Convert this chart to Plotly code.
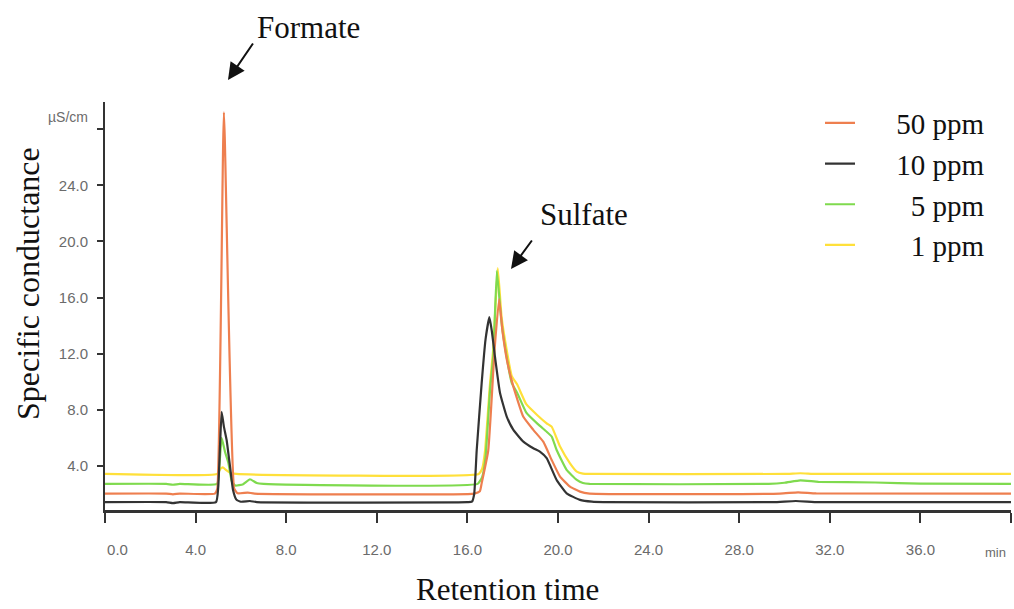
import plotly.graph_objects as go

# ---- data (retention time in min, conductance in µS/cm) ----
t_50 = [0, 2.7, 3.0, 3.3, 4.85, 4.96, 5.25, 5.7, 5.85, 6.3, 6.6, 16.3, 16.55, 16.63, 16.92, 17.2, 17.4,
        17.55, 17.75, 18.03, 18.47, 18.91, 19.35, 19.72, 20.09, 20.53, 20.97, 21.4, 29.8, 30.6, 31.4, 40]
c_50 = [2.03, 2.03, 1.98, 2.03, 2.03, 2.4, 29.2, 2.4, 2.05, 2.1, 2.03, 2.03, 2.2, 2.77, 5.1, 12.3, 15.9,
        13.6, 11.5, 9.65, 7.5, 6.57, 5.73, 4.43, 3.24, 2.52, 2.17, 2.03, 2.03, 2.12, 2.04, 2.03]

t_10 = [0, 2.7, 3.0, 3.3, 4.9, 5.0, 5.08, 5.15, 5.25, 5.37, 5.52, 5.65, 5.8, 6.0, 6.4, 6.7, 16.0, 16.2,
        16.3, 16.41, 16.63, 16.8, 16.97, 17.08, 17.2, 17.44, 17.74, 18.03, 18.47, 18.91, 19.2, 19.5, 19.94,
        20.38, 20.97, 21.5, 22.0, 29.5, 30.5, 31.5, 40]
c_10 = [1.42, 1.42, 1.35, 1.42, 1.42, 2.5, 5.5, 7.85, 6.8, 5.85, 3.95, 2.3, 1.6, 1.45, 1.5, 1.42, 1.42, 1.45,
        2.0, 5.1, 9.9, 13.0, 14.6, 13.6, 12.0, 9.2, 7.5, 6.57, 5.73, 5.26, 5.02, 4.55, 3.0,
        2.05, 1.58, 1.45, 1.42, 1.42, 1.5, 1.42, 1.42]

t_5 = [0, 2.7, 3.0, 3.3, 4.95, 5.05, 5.15, 5.3, 5.45, 5.6, 5.75, 6.1, 6.4, 6.7, 7.0, 16.45, 16.65, 16.8,
       17.0, 17.15, 17.3, 17.5, 17.73, 17.96, 18.2, 18.6, 19.1, 19.5, 19.72, 19.94, 20.38, 20.83, 21.1,
       21.4, 29.3, 30.0, 30.7, 31.5, 34.0, 36.0, 40]
c_5 = [2.72, 2.72, 2.66, 2.72, 2.72, 4.0, 6.0, 5.0, 4.2, 2.9, 2.6, 2.7, 3.05, 2.78, 2.72, 2.72, 3.2, 4.6,
       9.4, 12.0, 17.9, 14.3, 11.8, 9.9, 9.2, 7.8, 7.0, 6.44, 6.1, 5.14, 3.72, 3.0, 2.78,
       2.72, 2.72, 2.8, 2.97, 2.87, 2.82, 2.74, 2.72]

t_1 = [0, 4.95, 5.1, 5.2, 5.35, 5.55, 5.8, 16.5, 16.65, 16.78, 17.0, 17.14, 17.34, 17.51, 17.73, 17.96,
       18.2, 18.6, 19.1, 19.5, 19.72, 20.09, 20.53, 20.83, 21.1, 21.4, 30.0, 30.7, 31.4, 40]
c_1 = [3.43, 3.43, 3.8, 3.9, 3.7, 3.5, 3.43, 3.43, 3.8, 5.1, 9.9, 12.3, 18.1, 14.6, 12.3, 10.4,
       9.8, 8.4, 7.6, 7.04, 6.8, 5.38, 4.19, 3.6, 3.45, 3.43, 3.43, 3.48, 3.43, 3.43]

NB = "\u00a0"
series_names = [NB * 5 + "50 ppm", NB * 5 + "10 ppm", NB * 7 + "5 ppm", NB * 7 + "1 ppm"]
x_ticks = [0, 4, 8, 12, 16, 20, 24, 28, 32, 36, 40]
x_tick_text = [NB * 6 + "0.0", "4.0", "8.0", "12.0", "16.0", "20.0", "24.0", "28.0", "32.0", "36.0", ""]
y_ticks = [4, 8, 12, 16, 20, 24, 28]
y_tick_text = ["4.0", "8.0", "12.0", "16.0", "20.0", "24.0", ""]

# ---- styling ----
SERIF = "Liberation Serif, Times New Roman, serif"
NARROW = "Liberation Sans Narrow, Arial Narrow, Liberation Sans, Arial, sans-serif"
colors = {"50": "#EE7F4F", "10": "#333333", "5": "#7FDA4E", "1": "#FFE03A"}

fig = go.Figure()
# draw order: yellow, green, orange, black (black on top)
draw = [
    (t_1, c_1, series_names[3], colors["1"], 4),
    (t_5, c_5, series_names[2], colors["5"], 3),
    (t_50, c_50, series_names[0], colors["50"], 1),
    (t_10, c_10, series_names[1], colors["10"], 2),
]
for tx, cy, name, col, rank in draw:
    fig.add_trace(go.Scatter(
        x=tx, y=cy, mode="lines", name=name,
        line=dict(color=col, width=2.2, shape="spline", smoothing=0.4),
        legendrank=rank, legendgroup=name,
    ))

L, R, T, B = 105, 3, 102, 99
W, H = 1014, 609
PW, PH = W - L - R, H - T - B


def px(xp):
    return (xp - L) / PW


def py(yp):
    return (H - B - yp) / PH


fig.update_layout(
    width=W, height=H,
    margin=dict(l=L, r=R, t=T, b=B),
    plot_bgcolor="white", paper_bgcolor="white",
    showlegend=True,
    legend=dict(
        x=px(820), y=py(97.5), xanchor="left", yanchor="top",
        font=dict(family=SERIF, size=29, color="#111"),
        bgcolor="rgba(0,0,0,0)", tracegroupgap=0,
    ),
    xaxis=dict(
        range=[0, 40], tickmode="array", tickvals=x_ticks, ticktext=x_tick_text,
        ticks="outside", ticklen=10, tickwidth=2, tickcolor="#333",
        showline=True, linewidth=3, linecolor="#333",
        showgrid=False, zeroline=False,
        tickfont=dict(family=NARROW, size=15, color="#6b6b6b"),
        ticklabelstandoff=14,
    ),
    yaxis=dict(
        range=[0.86, 29.94], tickmode="array", tickvals=y_ticks, ticktext=y_tick_text,
        ticks="outside", ticklen=6, tickwidth=2, tickcolor="#333",
        showline=True, linewidth=2, linecolor="#333",
        showgrid=False, zeroline=False,
        tickfont=dict(family=NARROW, size=15, color="#6b6b6b"),
        ticklabelstandoff=6,
    ),
)

ann = []
# axis titles
ann.append(dict(x=px(507), y=py(609), xref="paper", yref="paper", text="Retention time",
                showarrow=False, font=dict(family=SERIF, size=31, color="#111"),
                xanchor="center", yanchor="bottom"))
ann.append(dict(x=px(28), y=py(284), xref="paper", yref="paper", text="Specific conductance",
                showarrow=False, textangle=-90, font=dict(family=SERIF, size=32, color="#111"),
                xanchor="center", yanchor="middle"))
# unit labels
ann.append(dict(x=px(68), y=py(117), xref="paper", yref="paper", text="µS/cm",
                showarrow=False, font=dict(family=NARROW, size=14, color="#6b6b6b"),
                xanchor="center", yanchor="middle"))
ann.append(dict(x=px(995), y=py(552), xref="paper", yref="paper", text="min",
                showarrow=False, font=dict(family=NARROW, size=13, color="#6b6b6b"),
                xanchor="center", yanchor="middle"))
# peak labels
ann.append(dict(x=px(308), y=py(27), xref="paper", yref="paper", text="Formate",
                showarrow=False, font=dict(family=SERIF, size=31, color="#111"),
                xanchor="center", yanchor="middle"))
ann.append(dict(x=px(584), y=py(214), xref="paper", yref="paper", text="Sulfate",
                showarrow=False, font=dict(family=SERIF, size=31, color="#111"),
                xanchor="center", yanchor="middle"))
# arrows
ann.append(dict(x=px(228), y=py(80), xref="paper", yref="paper", text="",
                showarrow=True, ax=26, ay=-38, arrowhead=2, arrowsize=1.7, arrowwidth=2,
                arrowcolor="#111", standoff=0))
ann.append(dict(x=px(511), y=py(269), xref="paper", yref="paper", text="",
                showarrow=True, ax=22, ay=-30, arrowhead=2, arrowsize=1.7, arrowwidth=2,
                arrowcolor="#111", standoff=0))
fig.update_layout(annotations=ann)

fig.write_html("out.html")
